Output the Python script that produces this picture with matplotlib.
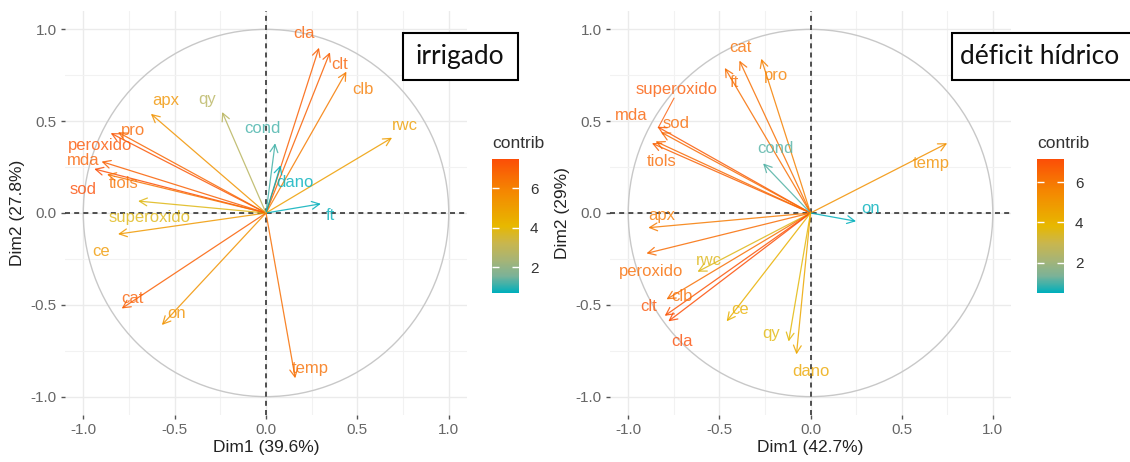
#!/usr/bin/env python3
"""Círculo de correlação PCA (fviz_pca_var) — irrigado vs déficit hídrico."""
import matplotlib
matplotlib.use("Agg")
import matplotlib.pyplot as plt
from matplotlib.colors import LinearSegmentedColormap, Normalize
from matplotlib.patches import Circle, Rectangle

plt.rcParams["font.family"] = ["Liberation Sans", "DejaVu Sans"]

# --- dados -----------------------------------------------------------------
IRR_VARS = ["cla", "clt", "clb", "rwc", "cond", "dano", "ft", "temp", "on", "cat",
            "ce", "superoxido", "sod", "tiols", "mda", "peroxido", "pro", "apx", "qy"]
IRR_DIM1 = [0.29, 0.35, 0.44, 0.69, 0.05, 0.08, 0.30, 0.16, -0.57, -0.79,
            -0.81, -0.70, -0.94, -0.87, -0.90, -0.85, -0.81, -0.63, -0.24]
IRR_DIM2 = [0.90, 0.875, 0.77, 0.41, 0.38, 0.26, 0.05, -0.90, -0.61, -0.52,
            -0.115, 0.065, 0.24, 0.21, 0.28, 0.435, 0.44, 0.54, 0.55]
IRR_CONTRIB = [6.98, 6.94, 6.15, 5.03, 1.15, 0.68, 0.73, 6.53, 5.44, 6.98,
               5.23, 3.86, 7.5, 6.42, 6.94, 7.22, 6.77, 5.38, 2.82]

DEF_VARS = ["cat", "pro", "ft", "superoxido", "sod", "mda", "tiols", "cond", "temp", "on",
            "apx", "peroxido", "rwc", "clb", "clt", "cla", "ce", "qy", "dano"]
DEF_DIM1 = [-0.39, -0.27, -0.47, -0.84, -0.82, -0.87, -0.85, -0.26, 0.75, 0.25,
            -0.89, -0.90, -0.62, -0.79, -0.80, -0.78, -0.46, -0.12, -0.077]
DEF_DIM2 = [0.83, 0.84, 0.79, 0.47, 0.44, 0.38, 0.39, 0.27, 0.38, -0.045,
            -0.08, -0.22, -0.32, -0.47, -0.56, -0.59, -0.59, -0.70, -0.77]
DEF_CONTRIB = [6.17, 5.72, 6.2, 6.8, 6.36, 6.61, 6.4, 1.03, 5.19, 0.48,
               5.86, 6.3, 3.57, 6.2, 7.0, 7.16, 4.11, 3.7, 4.4]

# posições dos rótulos (após repel), em coordenadas dos eixos
IRR_LABEL_X = [0.21, 0.405, 0.53, 0.76, -0.02, 0.16, 0.35, 0.24, -0.49, -0.73,
               -0.90, -0.636, -1.0, -0.78, -1.0, -0.91, -0.73, -0.55, -0.32]
IRR_LABEL_Y = [0.975, 0.81, 0.675, 0.474, 0.458, 0.165, -0.016, -0.845, -0.545, -0.463,
               -0.207, -0.027, 0.13, 0.158, 0.285, 0.366, 0.447, 0.61, 0.616]
DEF_LABEL_X = [-0.384, -0.19, -0.42, -0.734, -0.74, -0.986, -0.816, -0.19, 0.663, 0.329,
               -0.816, -0.877, -0.559, -0.707, -0.888, -0.707, -0.384, -0.214, 0.0]
DEF_LABEL_Y = [0.90, 0.747, 0.708, 0.67, 0.49, 0.529, 0.283, 0.349, 0.272, 0.027,
               -0.016, -0.316, -0.26, -0.452, -0.507, -0.698, -0.523, -0.654, -0.861]

PANELS = [
    dict(vars=IRR_VARS, x=IRR_DIM1, y=IRR_DIM2, c=IRR_CONTRIB, lx=IRR_LABEL_X, ly=IRR_LABEL_Y,
         xlab="Dim1 (39.6%)", ylab="Dim2 (27.8%)", tag="irrigado", tag_x=460,
         ax_px=(65, 467), cb_px=492, box_px=(403, 33, 518, 80), seg=None),
    dict(vars=DEF_VARS, x=DEF_DIM1, y=DEF_DIM2, c=DEF_CONTRIB, lx=DEF_LABEL_X, ly=DEF_LABEL_Y,
         xlab="Dim1 (42.7%)", ylab="Dim2 (29%)", tag="déficit hídrico", tag_x=1040,
         ax_px=(610, 1011), cb_px=1037, box_px=(952, 33, 1140, 80), seg="superoxido"),
]

# gradiente #00AFBB -> #E7B800 -> #FC4E07 (interpolado em Lab, como no ggplot)
CMAP = LinearSegmentedColormap.from_list("contrib", [
    (0.0, "#00AFBB"), (0.125, "#7BB298"), (0.25, "#A8B474"), (0.375, "#CAB64C"),
    (0.5, "#E7B800"), (0.75, "#F48901"), (1.0, "#FC4E07")])
W, H = 1130, 462
TICKS = [-1.0, -0.5, 0.0, 0.5, 1.0]
MINOR = [-0.75, -0.25, 0.25, 0.75]


def main() -> None:
    fig = plt.figure(figsize=(W / 100, H / 100), dpi=100)

    for p in PANELS:
        x0, x1 = p["ax_px"]
        ax = fig.add_axes([x0 / W, (H - 415) / H, (x1 - x0) / W, (415 - 11) / H])
        ax.set_xlim(-1.1, 1.1)
        ax.set_ylim(-1.1, 1.1)
        for s in ax.spines.values():
            s.set_visible(False)
        ax.set_xticks(TICKS)
        ax.set_yticks(TICKS)
        ax.set_xticks(MINOR, minor=True)
        ax.set_yticks(MINOR, minor=True)
        ax.set_xticklabels([f"{t:.1f}" for t in TICKS])
        ax.set_yticklabels([f"{t:.1f}" for t in TICKS])
        ax.tick_params(which="major", length=3, width=1, color="#555555",
                       labelsize=11, labelcolor="#666666", pad=3)
        ax.tick_params(which="minor", length=0)
        ax.grid(which="major", color="#EBEBEB", lw=1.0)
        ax.grid(which="minor", color="#F2F2F2", lw=0.8)
        ax.set_axisbelow(True)
        ax.set_xlabel(p["xlab"], fontsize=12.5, color="#222222", labelpad=2)
        ax.set_ylabel(p["ylab"], fontsize=12.5, color="#222222", labelpad=4)

        ax.add_patch(Circle((0, 0), 1.0, fill=False, ec="#C8C8C8", lw=1.0, zorder=1))
        ax.axhline(0, color="#333333", lw=1.2, ls=(0, (3, 2.5)), zorder=2)
        ax.axvline(0, color="#333333", lw=1.2, ls=(0, (3, 2.5)), zorder=2)

        norm = Normalize(vmin=min(p["c"]), vmax=max(p["c"]))
        for name, vx, vy, c, lx, ly in zip(p["vars"], p["x"], p["y"], p["c"], p["lx"], p["ly"]):
            col = CMAP(norm(c))
            ax.annotate("", xy=(vx, vy), xytext=(0, 0),
                        arrowprops=dict(arrowstyle="->,head_length=0.55,head_width=0.28",
                                        color=col, lw=0.9, alpha=0.85, shrinkA=0, shrinkB=0,
                                        mutation_scale=10), zorder=3)
            ax.text(lx, ly, name, color=col, alpha=0.8, fontsize=12,
                    ha="center", va="center", zorder=4)
            if name == p["seg"]:
                # segmento do ggrepel entre rótulo e ponta da seta
                ax.plot([lx - 0.015, vx + 0.005], [ly - 0.045, vy - 0.005],
                        color=col, alpha=0.8, lw=0.8, zorder=3)

        # barra de cores
        cax = fig.add_axes([p["cb_px"] / W, (H - 293) / H, 27 / W, 134 / H])
        cb = fig.colorbar(plt.cm.ScalarMappable(norm=norm, cmap=CMAP), cax=cax)
        cb.outline.set_visible(False)
        cb.set_ticks([2, 4, 6])
        cax.tick_params(axis="y", direction="in", length=5, width=1, color="white",
                        left=True, right=True, labelsize=11, labelcolor="#333333", pad=8)
        fig.text(p["cb_px"] / W, (H - 143) / H, "contrib", fontsize=12.5,
                 color="#333333", ha="left", va="center")

        # caixa de rótulo do tratamento
        bx0, by0, bx1, by1 = p["box_px"]
        fig.patches.append(Rectangle((bx0 / W, (H - by1) / H), (bx1 - bx0) / W, (by1 - by0) / H,
                                     transform=fig.transFigure, fc="white", ec="black",
                                     lw=1.5, zorder=5))
        fig.text(p["tag_x"] / W, (H - (by0 + by1) / 2) / H, p["tag"], fontsize=19,
                 family=["Lato", "DejaVu Sans"], color="#111111",
                 ha="center", va="center", zorder=6)

    fig.savefig("out.png", dpi=100)


if __name__ == "__main__":
    main()
